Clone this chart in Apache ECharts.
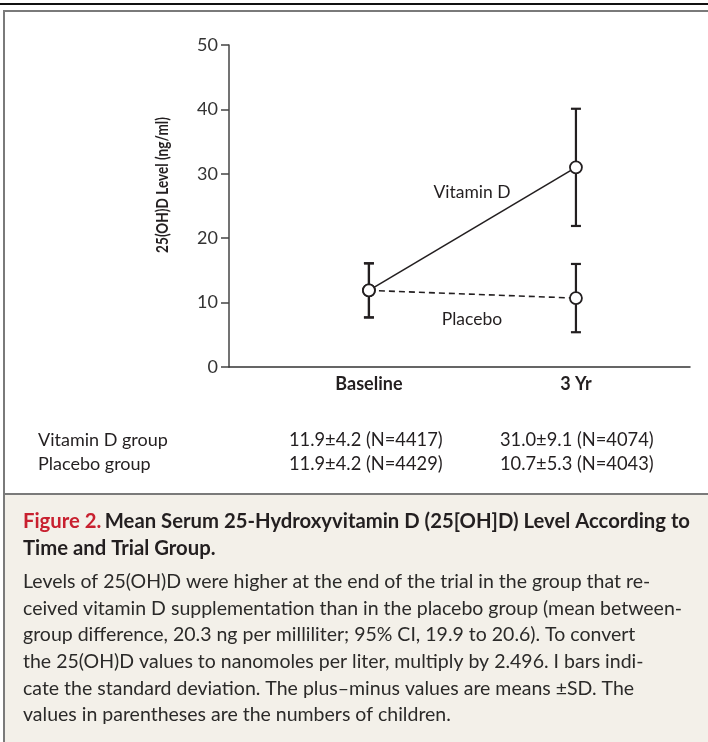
<!DOCTYPE html>
<html>
<head>
<meta charset="utf-8">
<script src="https://cdn.jsdelivr.net/npm/echarts@6/dist/echarts.min.js"></script>
<style>
html,body{margin:0;padding:0;background:#fff;}
#c{width:708px;height:742px;}
</style>
</head>
<body>
<div id="c"></div>
<script>
// ---- data ----
const categories = ['Baseline', '3 Yr'];
const vitaminDMean = [11.9, 31.0];
const vitaminDSD = [4.2, 9.1];
const vitaminDN = [4417, 4074];
const placeboMean = [11.9, 10.7];
const placeboSD = [4.2, 5.3];
const placeboN = [4429, 4043];
const yTicks = [0, 10, 20, 30, 40, 50];
const captionTitle = ['Mean Serum 25-Hydroxyvitamin D (25[OH]D) Level According to', 'Time and Trial Group.'];
const captionBody = [
  'Levels of 25(OH)D were higher at the end of the trial in the group that re-',
  'ceived vitamin D supplementation than in the placebo group (mean between-',
  'group difference, 20.3 ng per milliliter; 95% CI, 19.9 to 20.6). To convert',
  'the 25(OH)D values to nanomoles per liter, multiply by 2.496. I bars indi-',
  'cate the standard deviation. The plus\u2013minus values are means \u00b1SD. The',
  'values in parentheses are the numbers of children.'
];

const FONT = 'Lato, "Open Sans", sans-serif';
const INK = '#231f20';

const vitPts = categories.map((c, i) => [i + 1, vitaminDMean[i]]);
const plaPts = categories.map((c, i) => [i + 1, placeboMean[i]]);
const errData = [];
categories.forEach((c, i) => {
  errData.push([i + 1, vitaminDMean[i] - vitaminDSD[i], vitaminDMean[i] + vitaminDSD[i]]);
  errData.push([i + 1, placeboMean[i] - placeboSD[i], placeboMean[i] + placeboSD[i]]);
});

function fmt(m, s, n) { return m.toFixed(1) + '\u00b1' + s.toFixed(1) + ' (N=' + n + ')'; }

const chart = echarts.init(document.getElementById('c'), null, {renderer: 'canvas'});

const graphics = [
  {type: 'line', shape: {x1: 0, y1: 4, x2: 708, y2: 4}, style: {stroke: '#111', lineWidth: 2}, z: 0},
  {type: 'rect', shape: {x: 4, y: 11, width: 740, height: 800}, style: {fill: '#fff', stroke: '#7a7a7a', lineWidth: 2}, z: -10},
  {type: 'rect', shape: {x: 4, y: 494, width: 740, height: 300}, style: {fill: '#f3f0e9', stroke: '#7a7a7a', lineWidth: 2}, z: -9},
  {type: 'text', x: 163, y: 185, rotation: Math.PI / 2, scaleX: 0.8, scaleY: 1,
    style: {text: '25(OH)D Level (ng/ml)', font: 'bold 17px ' + FONT, fill: INK, align: 'center', verticalAlign: 'middle'}},
  {type: 'text', x: 472, y: 192, style: {text: 'Vitamin D', font: '17.5px ' + FONT, fill: INK, align: 'center', verticalAlign: 'middle'}},
  {type: 'text', x: 472, y: 319, style: {text: 'Placebo', font: '17.5px ' + FONT, fill: INK, align: 'center', verticalAlign: 'middle'}},
  {type: 'text', x: 38, y: 440, style: {text: 'Vitamin D group', font: '18px ' + FONT, fill: INK, verticalAlign: 'middle'}},
  {type: 'text', x: 38, y: 464, style: {text: 'Placebo group', font: '18px ' + FONT, fill: INK, verticalAlign: 'middle'}},
  {type: 'text', x: 289, y: 440, style: {text: fmt(vitaminDMean[0], vitaminDSD[0], vitaminDN[0]), font: '18.3px ' + FONT, fill: INK, verticalAlign: 'middle'}},
  {type: 'text', x: 289, y: 464, style: {text: fmt(placeboMean[0], placeboSD[0], placeboN[0]), font: '18.3px ' + FONT, fill: INK, verticalAlign: 'middle'}},
  {type: 'text', x: 500, y: 440, style: {text: fmt(vitaminDMean[1], vitaminDSD[1], vitaminDN[1]), font: '18.3px ' + FONT, fill: INK, verticalAlign: 'middle'}},
  {type: 'text', x: 500, y: 464, style: {text: fmt(placeboMean[1], placeboSD[1], placeboN[1]), font: '18.3px ' + FONT, fill: INK, verticalAlign: 'middle'}},
  {type: 'text', x: 23, y: 521, style: {
    text: '{r|Figure 2.} {b|' + captionTitle[0] + '}',
    verticalAlign: 'middle',
    rich: {r: {font: 'bold 20.3px ' + FONT, fill: '#c8202f'}, b: {font: 'bold 20.3px ' + FONT, fill: INK}}
  }},
  {type: 'text', x: 23, y: 548, style: {text: captionTitle[1], font: 'bold 20.3px ' + FONT, fill: INK, verticalAlign: 'middle'}}
];
captionBody.forEach((line, i) => {
  graphics.push({type: 'text', x: 23, y: 582 + i * 26.6, style: {text: line, font: '19.5px ' + FONT, fill: '#2b2a29', verticalAlign: 'middle'}});
});

chart.setOption({
  animation: false,
  backgroundColor: 'transparent',
  graphic: graphics,
  grid: {left: 229, right: 18, top: 45, bottom: 375, containLabel: false},
  xAxis: {
    type: 'value', min: 0.324, max: 2.551,
    axisLine: {show: true, lineStyle: {color: '#333', width: 1.5}},
    axisTick: {show: false},
    splitLine: {show: false},
    axisLabel: {
      customValues: [1, 2],
      formatter: v => categories[Math.round(v) - 1] || '',
      fontFamily: FONT, fontWeight: 'bold', fontSize: 18, color: INK, margin: 8
    }
  },
  yAxis: {
    type: 'value', min: 0, max: 50, interval: 10,
    axisLine: {show: true, lineStyle: {color: '#444', width: 1.5}},
    axisTick: {show: true, inside: false, length: 8, lineStyle: {color: '#444', width: 1.5}},
    splitLine: {show: false},
    axisLabel: {fontFamily: FONT, fontSize: 18, color: '#333', margin: 11,
      formatter: v => (yTicks.indexOf(v) >= 0 ? String(v) : '')}
  },
  series: [
    {
      type: 'custom', z: 2,
      data: errData,
      renderItem: function (params, api) {
        const x = api.value(0);
        const lo = api.coord([x, api.value(1)]);
        const hi = api.coord([x, api.value(2)]);
        const hw = 5;
        const st = {stroke: INK, lineWidth: 2.2};
        return {type: 'group', children: [
          {type: 'line', shape: {x1: lo[0], y1: lo[1], x2: hi[0], y2: hi[1]}, style: st},
          {type: 'line', shape: {x1: lo[0] - hw, y1: lo[1], x2: lo[0] + hw, y2: lo[1]}, style: st},
          {type: 'line', shape: {x1: hi[0] - hw, y1: hi[1], x2: hi[0] + hw, y2: hi[1]}, style: st}
        ]};
      }
    },
    {
      name: 'Placebo', type: 'line', z: 3, data: plaPts,
      symbol: 'circle', symbolSize: 12,
      lineStyle: {color: INK, width: 1.6, type: [6, 4]},
      itemStyle: {color: '#fff', borderColor: INK, borderWidth: 1.8}
    },
    {
      name: 'Vitamin D', type: 'line', z: 4, data: vitPts,
      symbol: 'circle', symbolSize: 12,
      lineStyle: {color: INK, width: 1.6},
      itemStyle: {color: '#fff', borderColor: INK, borderWidth: 1.8}
    }
  ]
});
</script>
</body>
</html>
